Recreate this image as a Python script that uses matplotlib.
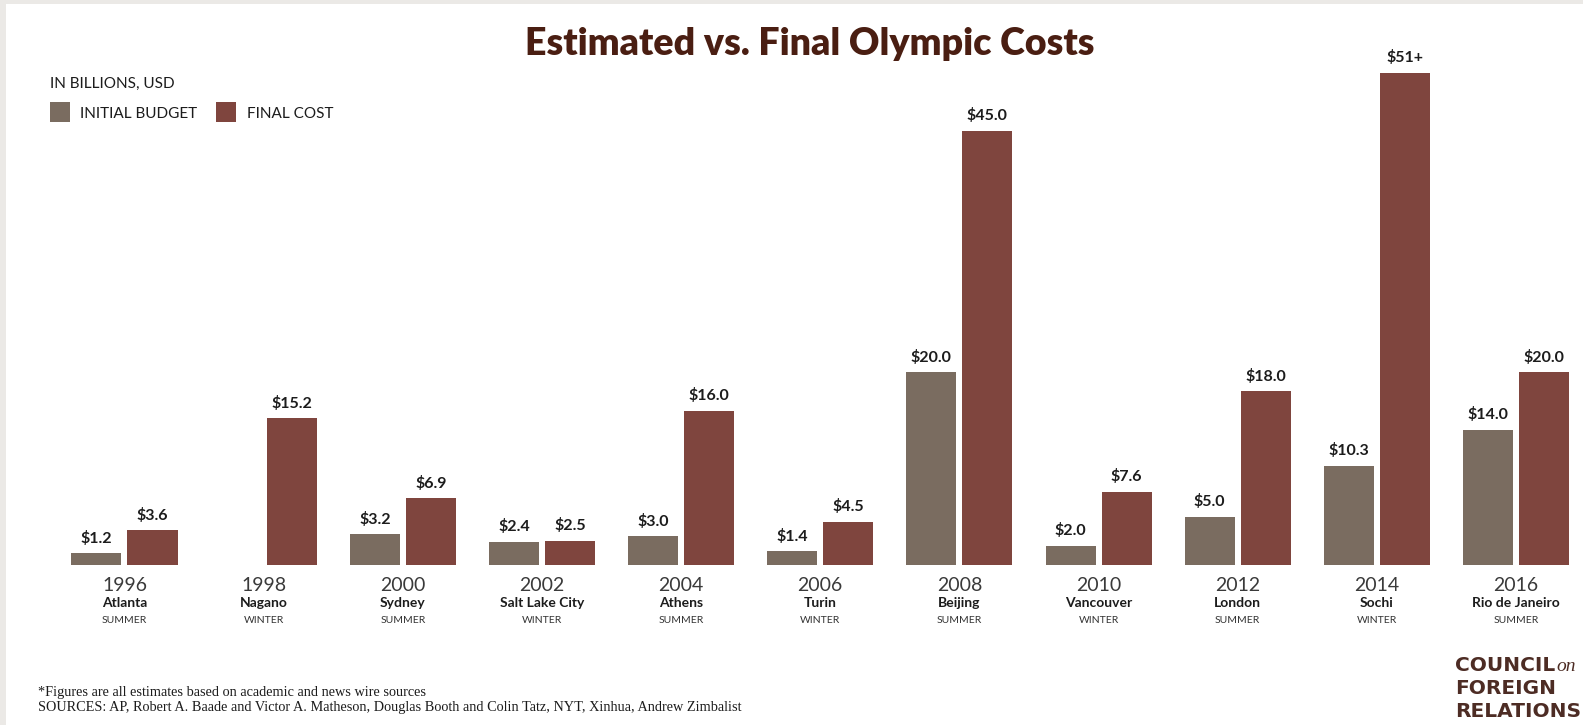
import matplotlib
matplotlib.use("Agg")
import matplotlib.pyplot as plt
import matplotlib.patches as patches
import numpy as np

# data (billions USD)
years = ['1996', '1998', '2000', '2002', '2004', '2006', '2008', '2010', '2012', '2014', '2016']
cities = ['Atlanta', 'Nagano', 'Sydney', 'Salt Lake City', 'Athens', 'Turin',
          'Beijing', 'Vancouver', 'London', 'Sochi', 'Rio de Janeiro']
seasons = ['SUMMER', 'WINTER', 'SUMMER', 'WINTER', 'SUMMER', 'WINTER',
           'SUMMER', 'WINTER', 'SUMMER', 'WINTER', 'SUMMER']
initial_budget = [1.2, np.nan, 3.2, 2.4, 3.0, 1.4, 20.0, 2.0, 5.0, 10.3, 14.0]
final_cost = [3.6, 15.2, 6.9, 2.5, 16.0, 4.5, 45.0, 7.6, 18.0, 51.0, 20.0]
final_labels = ['$3.6', '$15.2', '$6.9', '$2.5', '$16.0', '$4.5',
                '$45.0', '$7.6', '$18.0', '$51+', '$20.0']

GRAY = '#7a6c60'
RED = '#7f453e'
TITLE_C = '#4a1e12'
TXT = '#1c1c1c'

W, H = 1583, 725
fig = plt.figure(figsize=(W / 100, H / 100), dpi=100)
fig.patch.set_facecolor('white')


def fx(px):
    return px / W


def fy(py):
    return 1 - py / H


# light gray frame on the left and top
fig.patches.append(patches.Rectangle((0, 0), fx(6), 1, transform=fig.transFigure,
                                     facecolor='#ebe9e6', edgecolor='none', zorder=0))
fig.patches.append(patches.Rectangle((0, fy(4)), 1, 1 - fy(4), transform=fig.transFigure,
                                     facecolor='#ebe9e6', edgecolor='none', zorder=0))

# axes: baseline at y=565px, 9.65 px per billion; group spacing 139.15px starting at 124.5px
base_px = 565
ppu = 9.65
ax = fig.add_axes([0, fy(base_px), 1, (base_px - 5) / H])
ax.set_xlim((0 - 124.5) / 139.15, (W - 124.5) / 139.15)
ax.set_ylim(0, (base_px - 5) / ppu)
ax.axis('off')
ax.patch.set_alpha(0)

x = np.arange(len(years))
bw = 50 / 139.15
off = 28 / 139.15
ax.bar(x - off, initial_budget, width=bw, color=GRAY)
ax.bar(x + off, final_cost, width=bw, color=RED)

lab_font = dict(family='Lato', fontweight='bold', fontsize=11.5, color=TXT,
                ha='center', va='baseline')
for i in range(len(years)):
    if not np.isnan(initial_budget[i]):
        ax.annotate('$%.1f' % initial_budget[i], (x[i] - off, initial_budget[i]),
                    xytext=(0, 7.5), textcoords='offset points', **lab_font)
    ax.annotate(final_labels[i], (x[i] + off, final_cost[i]),
                xytext=(0, 7.5), textcoords='offset points', **lab_font)
    ax.annotate(years[i], (x[i], 0), xytext=(0, -18.7), textcoords='offset points',
                family='Lato', fontweight='normal', fontsize=14, color='#3a3a3a',
                ha='center', va='baseline', annotation_clip=False)
    ax.annotate(cities[i], (x[i], 0), xytext=(0, -30.2), textcoords='offset points',
                family='Lato', fontweight='bold', fontsize=10, color=TXT,
                ha='center', va='baseline', annotation_clip=False)
    ax.annotate(seasons[i], (x[i], 0), xytext=(0, -41.8), textcoords='offset points',
                family='Lato', fontsize=7.5, color='#333333',
                ha='center', va='baseline', annotation_clip=False)

# title
fig.text(fx(810), fy(55), 'Estimated vs. Final Olympic Costs', family='Lato',
         fontweight='heavy', fontsize=27, color=TITLE_C, ha='center', va='baseline')

# legend
fig.text(fx(50), fy(88), 'IN BILLIONS, USD', family='Lato', fontsize=11,
         color=TXT, ha='left', va='baseline')
fig.patches.append(patches.Rectangle((fx(50), fy(122)), fx(20), 20 / H,
                                     transform=fig.transFigure, facecolor=GRAY, edgecolor='none'))
fig.text(fx(80), fy(118), 'INITIAL BUDGET', family='Lato', fontsize=11,
         color=TXT, ha='left', va='baseline')
fig.patches.append(patches.Rectangle((fx(216), fy(122)), fx(20), 20 / H,
                                     transform=fig.transFigure, facecolor=RED, edgecolor='none'))
fig.text(fx(247), fy(118), 'FINAL COST', family='Lato', fontsize=11,
         color=TXT, ha='left', va='baseline')

# footnotes
fig.text(fx(38), fy(696), '*Figures are all estimates based on academic and news wire sources',
         family='Liberation Serif', fontsize=10.3, color=TXT, ha='left', va='baseline')
fig.text(fx(38), fy(711), 'SOURCES: AP, Robert A. Baade and Victor A. Matheson, Douglas Booth '
         'and Colin Tatz, NYT, Xinhua, Andrew Zimbalist',
         family='Liberation Serif', fontsize=10.3, color=TXT, ha='left', va='baseline')

# logo
LOGO = '#4d2c24'
fig.text(fx(1455), fy(671), 'COUNCIL', family='DejaVu Sans', fontweight='bold',
         fontsize=14.5, color=LOGO, ha='left', va='baseline')
fig.text(fx(1556), fy(671), 'on', family='Liberation Serif', style='italic',
         fontsize=14, color=LOGO, ha='left', va='baseline')
fig.text(fx(1455), fy(694), 'FOREIGN', family='DejaVu Sans', fontweight='bold',
         fontsize=14.5, color=LOGO, ha='left', va='baseline')
fig.text(fx(1455), fy(717), 'RELATIONS', family='DejaVu Sans', fontweight='bold',
         fontsize=14.5, color=LOGO, ha='left', va='baseline')

fig.savefig('out.png', dpi=100, facecolor=fig.get_facecolor())
